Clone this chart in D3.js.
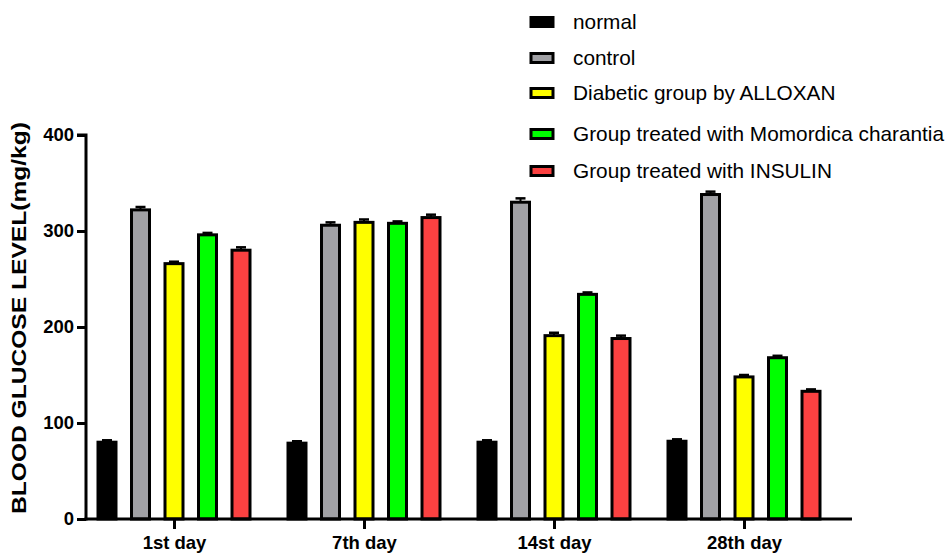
<!DOCTYPE html>
<html><head><meta charset="utf-8">
<script src="https://cdn.jsdelivr.net/npm/d3@7"></script>
<style>body{margin:0;background:#fff}svg{display:block}text{font-family:"Liberation Sans",Arial,sans-serif}</style>
</head><body>
<svg id="c" width="948" height="555"></svg>
<script>
const categories = ["1st day","7th day","14st day","28th day"];
const groups = ["normal","control","Diabetic group by ALLOXAN","Group treated with Momordica charantia","Group treated with INSULIN"];
const colors = ["#000000","#a0a0a4","#ffff00","#00ff00","#fb4141"];
const normal   = [80, 79, 80, 81];
const control  = [322, 306, 330, 338];
const alloxan  = [266, 309, 191, 148];
const momordica= [296, 308, 234, 168];
const insulin  = [280, 314, 188, 133];
const errNormal = [2, 2, 2, 2];
const errControl = [3, 3, 4, 3];
const errAlloxan = [2, 3, 3, 2];
const errMomordica = [2, 2, 2, 2];
const errInsulin = [3, 3, 3, 2];
const yTicks = [0,100,200,300,400];

const series = [normal, control, alloxan, momordica, insulin];
const errs = [errNormal, errControl, errAlloxan, errMomordica, errInsulin];
const FONT = "'Liberation Sans',Arial,sans-serif";

const svg = d3.select("#c");
const x0 = 86, x1 = 852, yBase = 519, yTop = 135;
const x = d3.scalePoint().domain(categories).range([174, 744]);
const y = d3.scaleLinear().domain([0,400]).range([yBase, yTop]);

const pitch = 33.5, bw = 18;
const sub = d3.scaleBand().domain(d3.range(5)).range([-pitch*2.5, pitch*2.5]);

categories.forEach((c, ci) => {
  const cx = x(c);
  series.forEach((s, gi) => {
    const bxc = cx + sub(gi) + sub.bandwidth()/2;
    const v = s[ci], e = errs[gi][ci];
    const g = svg.append("g");
    g.append("line").attr("x1", bxc).attr("x2", bxc).attr("y1", y(v)).attr("y2", y(v+e))
      .attr("stroke","#000").attr("stroke-width",2);
    g.append("line").attr("x1", bxc-5).attr("x2", bxc+5).attr("y1", y(v+e)).attr("y2", y(v+e))
      .attr("stroke","#000").attr("stroke-width",2.5);
    g.append("rect").attr("x", bxc-bw/2).attr("y", y(v)).attr("width", bw).attr("height", yBase - y(v))
      .attr("fill", colors[gi]).attr("stroke","#000").attr("stroke-width",3);
  });
});

// y axis
const yAxis = d3.axisLeft(y).tickValues(yTicks).tickSize(9).tickPadding(3);
const ya = svg.append("g").attr("transform",`translate(${x0},0)`).call(yAxis);
ya.select(".domain").attr("stroke-width",3).attr("d",`M-9,${yTop}H0V${yBase+1.5}`);
ya.selectAll(".tick line").attr("stroke-width",3);
ya.selectAll(".tick text").attr("font-size",18.5).attr("font-weight","bold").attr("fill","#000")
  .style("font-family",FONT);

// x axis
const xAxis = d3.axisBottom(x).tickSize(10).tickPadding(7);
const xa = svg.append("g").attr("transform",`translate(0,${yBase})`).call(xAxis);
xa.select(".domain").attr("stroke-width",3).attr("d",`M${x0-1.5},0H${x1}`);
xa.selectAll(".tick line").attr("stroke-width",3);
xa.selectAll(".tick text").attr("font-size",18.5).attr("font-weight","bold").attr("fill","#000")
  .style("font-family",FONT);

// y label
svg.append("text").attr("transform",`translate(26,318) rotate(-90)`)
  .attr("text-anchor","middle").attr("font-size",21).attr("font-weight","bold")
  .attr("textLength",392).attr("lengthAdjust","spacingAndGlyphs")
  .text("BLOOD GLUCOSE LEVEL(mg/kg)");

// legend
const legY = [22, 58, 93, 134, 171];
groups.forEach((gname, i) => {
  svg.append("rect").attr("x",531).attr("y",legY[i]-4.5).attr("width",22).attr("height",9)
    .attr("fill",colors[i]).attr("stroke","#000").attr("stroke-width",3);
  svg.append("text").attr("x",573).attr("y",legY[i]).attr("dy","0.36em").attr("font-size",20.8).text(gname);
});
</script>
</body></html>
